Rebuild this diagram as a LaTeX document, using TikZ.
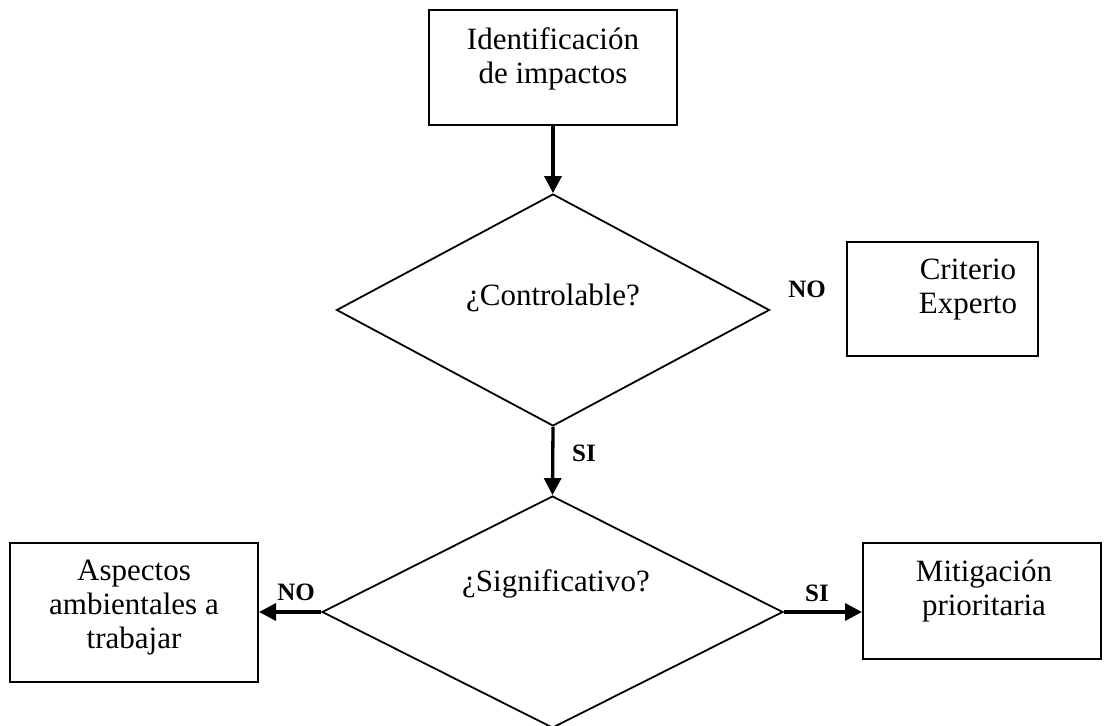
\documentclass[tikz,border=0pt]{standalone}
\usepackage{fontspec}
\setmainfont{Liberation Serif}
\usetikzlibrary{shapes.geometric,arrows.meta}
\begin{document}
\begin{tikzpicture}[x=1pt,y=-1pt,
  box/.style={draw,rectangle,line width=2pt,inner sep=0pt},
  dia/.style={draw,diamond,line width=1.8pt,inner sep=0pt},
  txt/.style={font=\fontsize{31}{34}\selectfont,align=center,inner sep=0pt,anchor=base},
  lbl/.style={font=\fontsize{25}{30}\selectfont\bfseries,inner sep=0pt},
  arr/.style={line width=3.3pt,-{Triangle[length=17pt,width=17pt]}}]
\useasboundingbox (0,0) rectangle (1104,726);
% boxes
\node[box,minimum width=248pt,minimum height=115pt] (b1) at (553,67.5) {};
\node[txt] (t1) at (553,83) {Identificación\\de impactos};
\node[box,minimum width=191pt,minimum height=114pt] (b2) at (942.5,299) {};
\node[txt] (t2) at (968,313) {Criterio\\Experto};
\node[box,minimum width=248pt,minimum height=139pt] (b3) at (134,612.5) {};
\node[txt] (t3) at (134,648) {Aspectos\\ambientales a\\trabajar};
\node[box,minimum width=238pt,minimum height=116pt] (b4) at (982,601) {};
\node[txt] (t4) at (984,615) {Mitigación\\prioritaria};
% diamonds
\node[dia,minimum width=433pt,minimum height=232pt] (d1) at (553,310) {};
\node[txt] (td1) at (553,305) {¿Controlable?};
\node[dia,minimum width=461pt,minimum height=232pt] (d2) at (552.5,612) {};
\node[txt] (td2) at (556,591) {¿Significativo?};
% arrows
\draw[arr] (b1.south) -- (d1.north);
\draw[arr] (d1.south) -- (d2.north);
\draw[arr] (d2.west) -- (b3.east |- d2.west);
\draw[arr] (d2.east) -- (b4.west |- d2.east);
% labels
\node[lbl] (n1) at (807,289) {NO};
\node[lbl] (s1) at (584,453) {SI};
\node[lbl] (n2) at (296,592) {NO};
\node[lbl] (s2) at (817,593) {SI};
\end{tikzpicture}
\end{document}
